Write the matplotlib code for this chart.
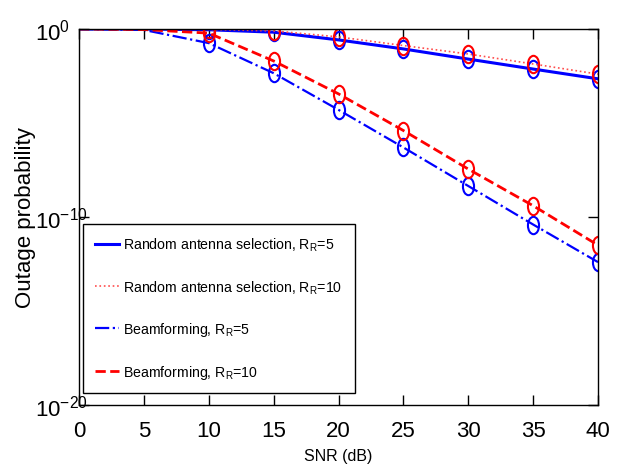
import matplotlib
matplotlib.use('Agg')
import matplotlib.pyplot as plt
import numpy as np
from matplotlib.path import Path

# ------------------------------------------------------------------
# Data (log10 of outage probability)
# ------------------------------------------------------------------
snr_db = [0, 5, 10, 15, 20, 25, 30, 35, 40]
rand_r5_log = [0, 0, -0.04, -0.17, -0.58, -1.06, -1.6, -2.13, -2.65]
rand_r10_log = [0, 0, -0.02, -0.10, -0.42, -0.88, -1.33, -1.86, -2.4]
bf_r5_log = [0, -0.05, -0.75, -2.35, -4.3, -6.3, -8.35, -10.4, -12.4]
bf_r10_log = [0, -0.03, -0.22, -1.7, -3.45, -5.4, -7.45, -9.4, -11.5]

labels = ['Random antenna selection, R$_\\mathrm{R}$=5',
          'Random antenna selection, R$_\\mathrm{R}$=10',
          'Beamforming, R$_\\mathrm{R}$=5',
          'Beamforming, R$_\\mathrm{R}$=10']

plt.rcParams['font.family'] = ['Liberation Sans', 'DejaVu Sans']
plt.rcParams['mathtext.fontset'] = 'custom'
plt.rcParams['mathtext.rm'] = 'Liberation Sans'
plt.rcParams['mathtext.it'] = 'Liberation Sans:italic'
plt.rcParams['mathtext.default'] = 'regular'

# open ellipse marker (the original picture is squeezed horizontally)
circ = Path.unit_circle()
ellipse = Path(circ.vertices * np.array([0.64, 1.0]), circ.codes)

fig = plt.figure(figsize=(6.22, 4.77), dpi=100)
ax = fig.add_axes([79/622, 1 - 406/477, (598-79)/622, (406-30)/477])

x = np.array(snr_db)
styles = [
    (rand_r5_log,  dict(color='#0000ff', ls='-',  lw=2.2)),
    (rand_r10_log, dict(color='#ff4d4d', ls=':',  lw=1.2)),
    (bf_r5_log,    dict(color='#0000ff', ls='-.', lw=1.6)),
    (bf_r10_log,   dict(color='#ff0000', ls='--', lw=2.0)),
]
for (vals, st), lab in zip(styles, labels):
    y = 10.0 ** np.array(vals)
    ax.plot(x, y, label=lab, **st)
    mcol = '#ff0000' if st['color'] != '#0000ff' else '#0000ff'
    ax.plot(x[2:], y[2:], ls='none', marker=ellipse, ms=12.5,
            mfc='none', mec=mcol, mew=1.5)

ax.set_yscale('log')
ax.set_xlim(0, 40)
ax.set_ylim(1e-20, 1e0)
ax.set_xticks(np.arange(0, 41, 5))
ax.set_yticks([1e-20, 1e-10, 1e0])
ax.minorticks_off()
ax.tick_params(axis='both', which='both', direction='in', top=True, right=True,
               length=7, width=1, labelsize=16)
ax.tick_params(axis='x', pad=11)
ax.tick_params(axis='y', pad=32)
for lbl in ax.get_yticklabels():
    lbl.set_ha('left')
for sp in ax.spines.values():
    sp.set_linewidth(1.0)

ax.set_xlabel('SNR (dB)', fontsize=11.5, labelpad=5)
ax.set_ylabel('Outage probability', fontsize=16)
ax.yaxis.set_label_coords(-0.082, 0.5)

leg = ax.legend(loc='upper left', bbox_to_anchor=(83/622, 1 - 225/477),
                bbox_transform=fig.transFigure, fontsize=10.2, frameon=True,
                fancybox=False, framealpha=1, edgecolor='black',
                handlelength=1.7, handletextpad=0.3, labelspacing=1.75,
                borderpad=0.85, borderaxespad=0)
leg.get_frame().set_linewidth(1.0)

fig.savefig('out.png', dpi=100)
